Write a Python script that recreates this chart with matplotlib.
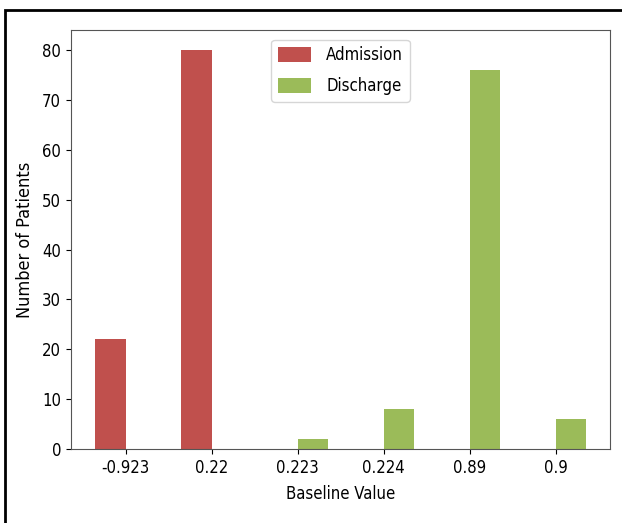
import matplotlib.pyplot as plt
import numpy as np
from matplotlib.patches import Rectangle

plt.rcParams['font.family'] = ['DejaVu Sans']
plt.rcParams['font.stretch'] = 'condensed'
plt.rcParams['font.size'] = 11.5

# значения по категориям
baseline = ['-0.923', '0.22', '0.223', '0.224', '0.89', '0.9']
admission = [22, 80, 0, 0, 0, 0]
discharge = [0, 0, 2, 8, 76, 6]

x = np.arange(len(baseline))
w = 0.35

fig = plt.figure(figsize=(6.22, 5.23), dpi=100)
ax = fig.add_axes([0.114, 0.141, 0.867, 0.802])

ax.bar(x - w / 2, admission, w, color='#c0504d', label='Admission')
ax.bar(x + w / 2, discharge, w, color='#9bbb59', label='Discharge')

ax.set_xticks(x)
ax.set_xticklabels(baseline)
ax.tick_params(labelsize=12)
ax.set_xlabel('Baseline Value', fontsize=12, labelpad=6)
ax.set_ylabel('Number of Patients', fontsize=13, labelpad=6)
for s in ax.spines.values():
    s.set_edgecolor('#555555')
ax.legend(loc='upper center', labelspacing=0.75, handlelength=2.0, handleheight=1.0,
          handletextpad=0.9, borderaxespad=0.6, fontsize=12)

# рамка вокруг картинки (правый и нижний край за границей)
fig.patches.append(Rectangle((0.008, -0.05), 1.1, 1.031, transform=fig.transFigure,
                             fill=False, edgecolor='black', linewidth=2))

plt.savefig('out.png')
